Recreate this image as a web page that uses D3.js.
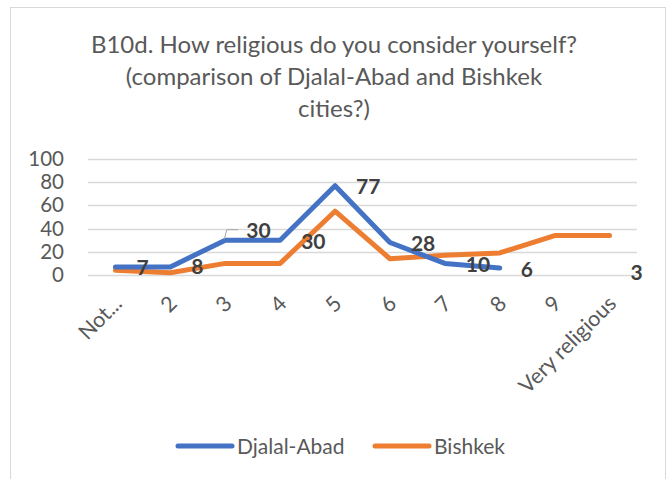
<!doctype html>
<html>
<head>
<meta charset="utf-8">
<script src="https://cdnjs.cloudflare.com/ajax/libs/d3/7.8.5/d3.min.js"></script>
<style type="text/css">
    html,body{
        margin: 0;
        overflow: hidden;
        background: #fff;
    }
    text {
        font-family: Lato, "Open Sans", sans-serif;
    }
</style>
</head>
<body>
<script type="text/javascript">
// categories of the religiosity scale
var categories = ["Not...", "2", "3", "4", "5", "6", "7", "8", "9", "Very religious"];

// series values (null = no point)
var djalalAbad = [7, 7, 30, 30, 77, 28, 10, 6, null, null];
var bishkek = [4, 2, 10, 10, 55, 14, 17, 19, 34, 34];

// data labels shown on the chart
var labelValues = [7, 8, 30, 30, 77, 28, 10, 6, null, 3];

var yTicks = [0, 20, 40, 60, 80, 100];

var titleLines = [
    "B10d. How religious do you consider yourself?",
    "(comparison of Djalal-Abad and Bishkek",
    "cities?)"
];

var seriesList = [
    {name: "Djalal-Abad", values: djalalAbad, color: "#4472c4"},
    {name: "Bishkek", values: bishkek, color: "#ed7d31"}
];

(function(){
    var w = 669, h = 479;

    var svg = d3.select("body").append("svg")
        .attr("width", w)
        .attr("height", h);

    // chart frame
    svg.append("rect")
        .attr("x", 10.5).attr("y", 7.5)
        .attr("width", 655).attr("height", 490)
        .attr("fill", "#fff")
        .attr("stroke", "#d9d9d9");

    // title
    svg.append("g").selectAll("text")
        .data(titleLines)
        .enter().append("text")
        .attr("x", 334)
        .attr("y", function(d, i){ return 53 + i * 32; })
        .attr("text-anchor", "middle")
        .attr("fill", "#595959")
        .style("font-size", "24px")
        .text(function(d){ return d; });

    var x = d3.scaleBand().domain(categories).range([88, 637]).padding(0);
    var cx = function(d){ return x(d) + x.bandwidth() / 2; };
    var y = d3.scaleLinear().domain([0, 100]).range([275, 159]);

    // gridlines
    svg.append("g").selectAll("line")
        .data(yTicks)
        .enter().append("line")
        .attr("x1", 88).attr("x2", 637)
        .attr("y1", function(d){ return Math.round(y(d)) + 0.5; })
        .attr("y2", function(d){ return Math.round(y(d)) + 0.5; })
        .attr("stroke", "#d9d9d9")
        .attr("stroke-width", 1.5);

    // y axis labels
    var yAxis = svg.append("g")
        .attr("transform", "translate(72,0)")
        .call(d3.axisLeft(y).tickValues(yTicks).tickSize(0).tickPadding(8));
    yAxis.select(".domain").remove();
    yAxis.selectAll("text")
        .attr("fill", "#595959")
        .style("font-size", "20.5px")
        .style("font-family", "Lato, sans-serif");

    // x axis labels, rotated
    var xAxis = svg.append("g")
        .attr("transform", "translate(0,275)")
        .call(d3.axisBottom(x).tickSize(0).tickPadding(0));
    xAxis.select(".domain").remove();
    xAxis.selectAll("text")
        .attr("fill", "#595959")
        .style("font-size", "21.5px")
        .style("font-family", "Lato, sans-serif")
        .attr("text-anchor", "end")
        .attr("dy", null)
        .attr("y", 0)
        .attr("transform", "translate(8,30) rotate(-45)");

    // lines
    var line = d3.line()
        .defined(function(d){ return d.v != null; })
        .x(function(d){ return cx(d.c); })
        .y(function(d){ return y(d.v); });

    svg.append("g").selectAll("path")
        .data(seriesList.slice().reverse())
        .enter().append("path")
        .attr("d", function(s){
            return line(s.values.map(function(v, i){ return {c: categories[i], v: v}; }));
        })
        .attr("fill", "none")
        .attr("stroke", function(s){ return s.color; })
        .attr("stroke-width", 5)
        .attr("stroke-linejoin", "round")
        .attr("stroke-linecap", "round");

    // data labels (the one for "3" sits higher with a leader line)
    var labels = labelValues.map(function(v, i){ return {c: categories[i], v: v, i: i}; })
        .filter(function(d){ return d.v != null; });

    var leader = labels[2];
    svg.append("path")
        .attr("d", "M" + (cx(leader.c) - 1) + "," + (y(leader.v) - 1) +
            "L" + (cx(leader.c) + 1.5) + "," + (y(leader.v) - 10.5) +
            "H" + (cx(leader.c) + 13))
        .attr("fill", "none")
        .attr("stroke", "#a6a6a6")
        .attr("stroke-width", 1);

    svg.append("g").selectAll("text")
        .data(labels)
        .enter().append("text")
        .attr("x", function(d){ return cx(d.c) + 21; })
        .attr("y", function(d){ return y(d.v) + (d === leader ? -10 : 1); })
        .attr("dy", "0.36em")
        .attr("fill", "#404040")
        .style("font-size", "21px")
        .style("font-weight", "bold")
        .text(function(d){ return d.v; });

    // legend
    var legendPos = [178, 375];
    var legend = svg.append("g").selectAll("g")
        .data(seriesList)
        .enter().append("g")
        .attr("transform", function(d, i){ return "translate(" + legendPos[i] + ",446)"; });
    legend.append("line")
        .attr("x1", 0).attr("x2", 54)
        .attr("stroke", function(d){ return d.color; })
        .attr("stroke-width", 5)
        .attr("stroke-linecap", "round");
    legend.append("text")
        .attr("x", 59)
        .attr("dy", "0.36em")
        .attr("fill", "#595959")
        .style("font-size", "21px")
        .text(function(d){ return d.name; });
})();
</script>
</body>
</html>
